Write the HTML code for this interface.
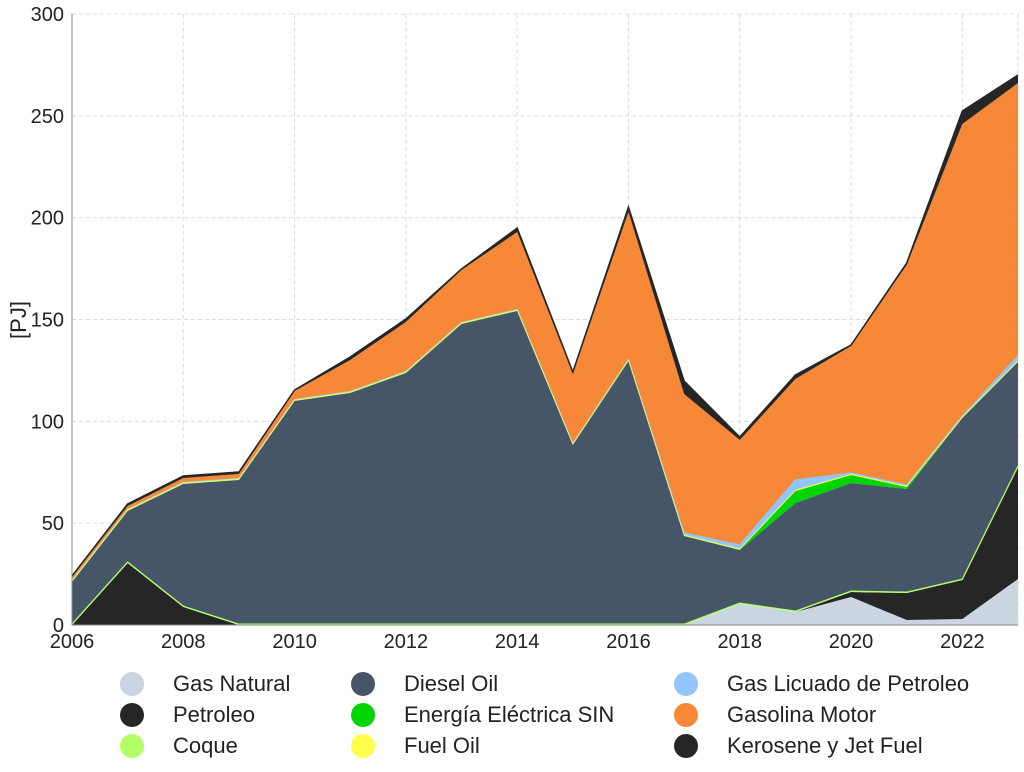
<!DOCTYPE html>
<html><head><meta charset="utf-8"><style>
body{margin:0;background:#fff;}
svg{display:block;font-family:"Liberation Sans",sans-serif;}
</style></head><body>
<svg id="s" width="1024" height="772" xmlns="http://www.w3.org/2000/svg">
<g id="grid" stroke="#dcdcdc" stroke-dasharray="4,3" stroke-width="1"></g>
<g id="areas"></g>
<g id="lines" fill="none" stroke-width="1.5"></g>
<line x1="72" y1="14" x2="72" y2="625" stroke="#888" stroke-width="1"/>
<line x1="72" y1="625" x2="1018" y2="625" stroke="#888" stroke-width="1"/>
<g id="ticks" font-size="20" fill="#222"></g>
<text transform="translate(26,320) rotate(-90)" text-anchor="middle" font-size="22" fill="#222">[PJ]</text>
<g font-size="22" fill="#222">
<circle cx="132" cy="684" r="12" fill="#cbd5e1"/><text x="173" y="691">Gas Natural</text>
<circle cx="132" cy="715" r="12" fill="#262626"/><text x="173" y="722">Petroleo</text>
<circle cx="132" cy="746" r="12" fill="#b3ff66"/><text x="173" y="753">Coque</text>
<circle cx="363" cy="684" r="12" fill="#475569"/><text x="404" y="691">Diesel Oil</text>
<circle cx="363" cy="715" r="12" fill="#00d500"/><text x="404" y="722">Energía Eléctrica SIN</text>
<circle cx="363" cy="746" r="12" fill="#ffff4d"/><text x="404" y="753">Fuel Oil</text>
<circle cx="686" cy="684" r="12" fill="#93c5fd"/><text x="727" y="691">Gas Licuado de Petroleo</text>
<circle cx="686" cy="715" r="12" fill="#f68838"/><text x="727" y="722">Gasolina Motor</text>
<circle cx="686" cy="746" r="12" fill="#262626"/><text x="727" y="753">Kerosene y Jet Fuel</text>
</g>
</svg>
<script>
const NS="http://www.w3.org/2000/svg";
function el(p,t,a,txt){const e=document.createElementNS(NS,t);for(const k in a)e.setAttribute(k,a[k]);if(txt!==undefined)e.textContent=txt;document.getElementById(p).appendChild(e);return e;}
const X=i=>72+i*55.647;
for(let v=0;v<=300;v+=50){const y=625-v*611/300;if(v>0)el("grid","line",{x1:72,x2:1018,y1:y,y2:y});el("ticks","text",{x:64,y:y+7,"text-anchor":"end"},v);}
for(let yr=2006;yr<=2022;yr+=2){const x=X(yr-2006);if(yr>2006)el("grid","line",{x1:x,x2:x,y1:14,y2:625});el("ticks","text",{x:x,y:648,"text-anchor":"middle"},yr);}
el("grid","line",{x1:1018,x2:1018,y1:14,y2:625});
const base=Array(18).fill(625);
const gas=[625,625,625,625,625,625,625,625,625,625,625,625,604,612,597,620,619,579];
const pet=[625,563,607,625,625,625,625,625,625,625,625,625,604,612,592,593,580,467];
const coq=pet.map(v=>v-0.8);
const die=[582,511,484,480,401,393,373,324,311,445,361,536,550,503,483,489,418,362];
const sin=die.map((v,i)=>[ ,,,,,,,,,,,,,491,475,487,,][i]??v-0.3);
const fuel=sin.map(v=>v-0.8);
const glp=[580.5,509.5,482.5,478.5,399.5,391.5,371.5,322.5,309.5,443.5,359.5,533,545,480,473,485,416,356];
const gso=[577,506,478,474,391,360,322,270,232,374,212,394,440,379,346,265,124,83];
const ker=[576,504,476,472,390,357,319,269,228,372,207,381,437,375,345,263,111,75];
const layers=[[base,gas,"#cbd5e1"],[gas,pet,"#262626"],[pet,coq,"#b3ff66"],[coq,die,"#475569"],[die,sin,"#00d500"],[sin,fuel,"#ffff4d"],[fuel,glp,"#93c5fd"],[glp,gso,"#f68838"],[gso,ker,"#262626"]];
for(const [lo,hi,c] of layers){let d="M"+hi.map((v,i)=>X(i)+","+v).join(" L");for(let i=17;i>=0;i--)d+=" L"+X(i)+","+lo[i];el("areas","path",{d:d+"Z",fill:c});}
const ln=(a,c,w)=>el("lines","path",{d:"M"+a.map((v,i)=>X(i)+","+v).join(" L"),stroke:c,"stroke-width":w});
ln(glp,"#93c5fd",1.2);ln(fuel,"#e8f06a",0.9);ln(coq,"#b3ff66",1.3);ln(ker,"#262626",1.5);
</script>
</body></html>
